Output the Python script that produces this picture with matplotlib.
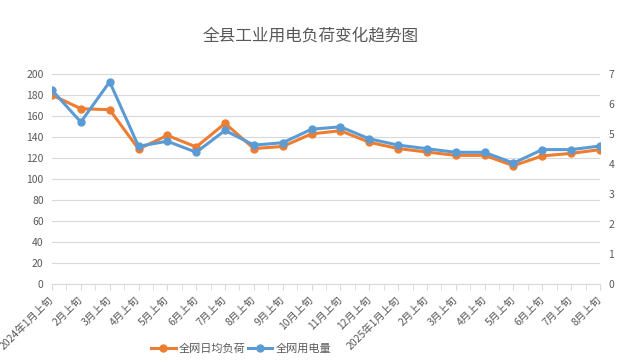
import numpy as np
import matplotlib.pyplot as plt
from matplotlib.ticker import MultipleLocator

plt.rcParams['font.family'] = ['Noto Sans CJK SC', 'DejaVu Sans']

# 横轴类别
labels = ['2024年1月上旬', '2月上旬', '3月上旬', '4月上旬', '5月上旬', '6月上旬',
          '7月上旬', '8月上旬', '9月上旬', '10月上旬', '11月上旬', '12月上旬',
          '2025年1月上旬', '2月上旬', '3月上旬', '4月上旬', '5月上旬', '6月上旬',
          '7月上旬', '8月上旬']
# 全网日均负荷 (左轴)
load = [180, 167, 166, 128.6, 141.5, 130.5, 153, 129, 131, 143,
        146, 135, 129, 125.7, 122.5, 122.5, 112.7, 122, 124.4, 128]
# 全网用电量 (右轴)
power = [6.46, 5.4, 6.74, 4.59, 4.76, 4.39, 5.12, 4.63, 4.71, 5.16,
         5.24, 4.84, 4.63, 4.51, 4.39, 4.39, 4.03, 4.48, 4.48, 4.6]

orange = '#ED7D31'
blue = '#5B9BD5'
txt = '#595959'
grid = '#D9D9D9'

fig = plt.figure(figsize=(6.22, 3.62), dpi=100)
ax = fig.add_axes([0.0836, 0.2155, 0.881, 0.580])
x = np.arange(len(labels))

ax.plot(x, load, color=orange, lw=2.2, marker='o', ms=5, label='全网日均负荷')
ax.set_ylim(0, 200)
ax.set_xlim(0, len(labels) - 1)
ax.yaxis.set_major_locator(MultipleLocator(20))
ax.grid(axis='y', color=grid, lw=0.8)
ax.set_axisbelow(True)

ax2 = ax.twinx()
ax2.plot(x, power, color=blue, lw=2.2, marker='o', ms=5, label='全网用电量')
ax2.set_ylim(0, 7)
ax2.yaxis.set_major_locator(MultipleLocator(1))

for a in (ax, ax2):
    for s in a.spines.values():
        s.set_visible(False)
ax.spines['bottom'].set_visible(True)
ax.spines['bottom'].set_color(grid)

ax.tick_params(axis='y', length=0, labelsize=7.5, labelcolor=txt, pad=6)
ax2.tick_params(axis='y', length=0, labelsize=7.5, labelcolor=txt, pad=6)

ax.set_xticks(x)
ax.set_xticks(np.arange(0.5, len(labels) - 1, 1), minor=True)
ax.set_xticklabels(labels, rotation=45, ha='right', va='center',
                   rotation_mode='anchor', fontsize=7.5, color=txt)
ax.tick_params(axis='x', which='both', direction='out', length=4,
               color=grid, pad=6)

fig.text(0.5, 0.90, '全县工业用电负荷变化趋势图', ha='center', va='center',
         fontsize=12, color=txt)

h1, l1 = ax.get_legend_handles_labels()
h2, l2 = ax2.get_legend_handles_labels()
fig.legend(h1 + h2, l1 + l2, loc='center', bbox_to_anchor=(0.388, 0.036),
           ncol=2, frameon=False, fontsize=8, labelcolor=txt,
           handlelength=2.2, handletextpad=0.3, columnspacing=0.2)

fig.savefig('out.png', dpi=100)
